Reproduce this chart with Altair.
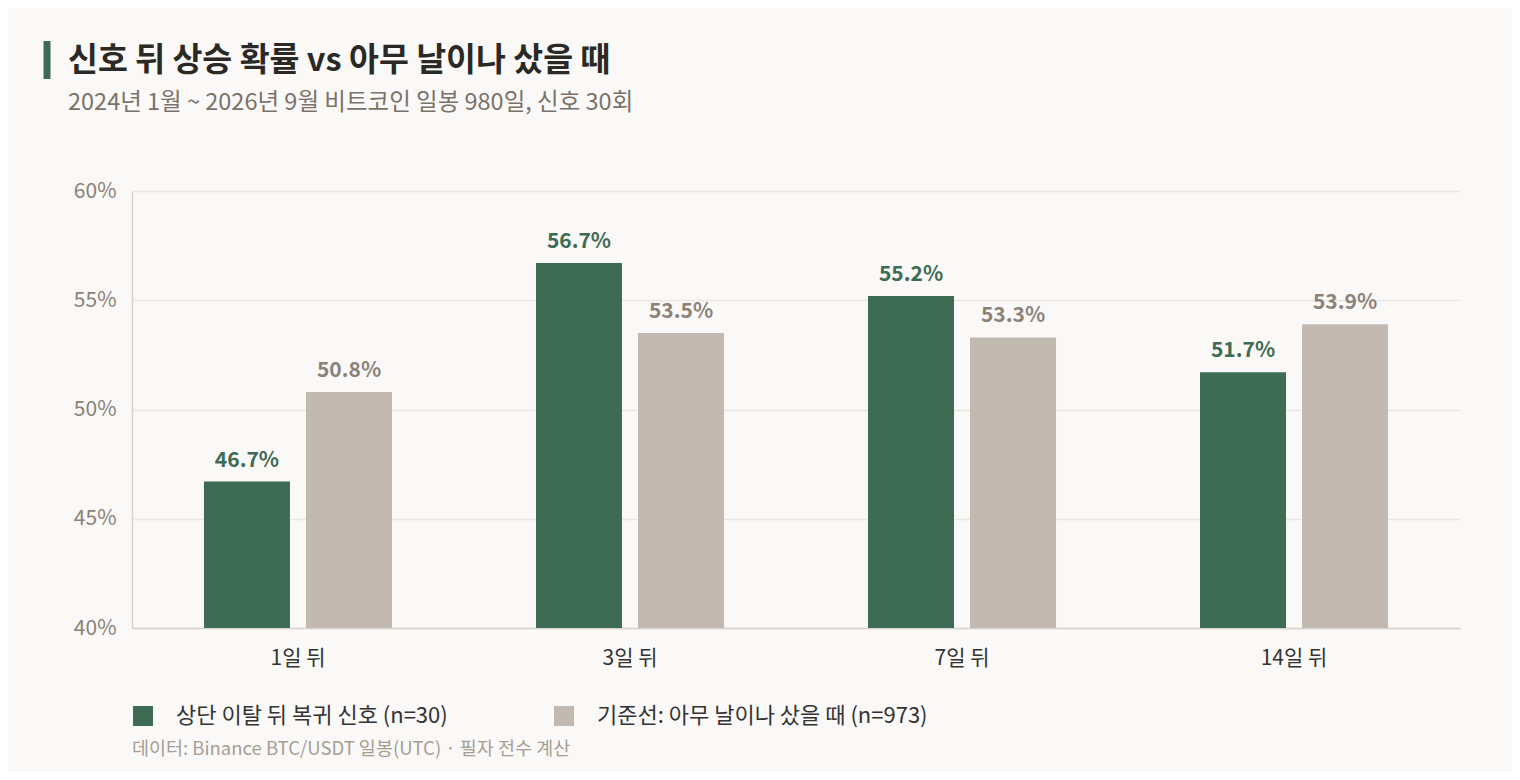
import altair as alt
import pandas as pd

FONT = "Noto Sans CJK KR"
GREEN = "#3e6b53"
GREY = "#c2bab1"

horizons = ["1일 뒤", "3일 뒤", "7일 뒤", "14일 뒤"]
series = ["상단 이탈 뒤 복귀 신호 (n=30)", "기준선: 아무 날이나 샀을 때 (n=973)"]
signal = [46.7, 56.7, 55.2, 51.7]
baseline = [50.8, 53.5, 53.3, 53.9]

rows = []
for h, s, b in zip(horizons, signal, baseline):
    rows.append({"horizon": h, "series": series[0], "value": s})
    rows.append({"horizon": h, "series": series[1], "value": b})
df = pd.DataFrame(rows)
df["label"] = df["value"].map(lambda v: f"{v:.1f}%")

x = alt.X(
    "horizon:N",
    sort=horizons,
    title=None,
    scale=alt.Scale(paddingInner=0.4337, paddingOuter=0.2168),
    axis=alt.Axis(
        labelAngle=0,
        labelFontSize=21,
        labelColor="#333333",
        labelPadding=19,
        ticks=False,
        domainColor="#d9d3cc",
        domainWidth=1.5,
        grid=False,
    ),
)
xoff = alt.XOffset(
    "series:N", sort=series, scale=alt.Scale(paddingInner=0.157, paddingOuter=0)
)
y = alt.Y(
    "value:Q",
    title=None,
    scale=alt.Scale(domain=[40, 60], clamp=True),
    axis=alt.Axis(
        values=[40, 45, 50, 55, 60],
        labelExpr="datum.value + '%'",
        labelFontSize=21,
        labelColor="#8a8178",
        labelPadding=16,
        ticks=False,
        domainColor="#d9d3cc",
        domainWidth=1.5,
        gridColor="#ece7e1",
        gridWidth=1.5,
    ),
)
color = alt.Color(
    "series:N",
    sort=series,
    scale=alt.Scale(domain=series, range=[GREEN, GREY]),
    legend=alt.Legend(
        title=None,
        orient="none",
        legendX=0,
        legendY=514,
        direction="horizontal",
        symbolType="square",
        symbolSize=400,
        symbolStrokeWidth=0,
        labelFontSize=22,
        labelColor="#333333",
        labelOffset=22,
        columnPadding=105,
        labelLimit=600,
    ),
)

bars = alt.Chart(df).mark_bar().encode(x=x, xOffset=xoff, y=y, color=color)

labels = (
    alt.Chart(df)
    .mark_text(baseline="bottom", dy=-11, fontSize=21, fontWeight="bold")
    .encode(
        x=x,
        xOffset=xoff,
        y=y,
        text="label:N",
        color=alt.Color(
            "series:N",
            sort=series,
            scale=alt.Scale(domain=series, range=["#3e6b53", "#8c8279"]),
            legend=None,
        ),
    )
)

one = pd.DataFrame({"note": ["데이터: Binance BTC/USDT 일봉(UTC) · 필자 전수 계산"]})

# green accent bar left of the title
accent = (
    alt.Chart(one)
    .mark_rule(color=GREEN, strokeWidth=7)
    .encode(x=alt.value(-85), y=alt.value(-150), y2=alt.value(-112))
)

footer = (
    alt.Chart(one)
    .mark_text(align="left", baseline="middle", fontSize=18.5, color="#a69e95")
    .encode(x=alt.value(0), y=alt.value(558), text="note:N")
)

chart = (
    alt.layer(bars, labels, accent, footer)
    .resolve_scale(color="independent")
    .properties(
        width=1328,
        height=437,
        autosize=alt.AutoSizeParams(type="none"),
        padding={"left": 124, "top": 183, "right": 52, "bottom": 144},
        background="#faf9f7",
        title=alt.Title(
            "신호 뒤 상승 확률 vs 아무 날이나 샀을 때",
            subtitle="2024년 1월 ~ 2026년 9월 비트코인 일봉 980일, 신호 30회",
            anchor="start",
            frame="group",
            dx=-64,
            dy=77,
            offset=0,
            fontSize=32.5,
            fontWeight="bold",
            color="#2b2926",
            subtitleFontSize=23.5,
            subtitleColor="#7a7269",
            subtitlePadding=14,
        ),
    )
    .configure(font=FONT)
    .configure_view(stroke="transparent", strokeWidth=0)
)

chart.save("out.html", embed_options={"renderer": "svg", "actions": False})
